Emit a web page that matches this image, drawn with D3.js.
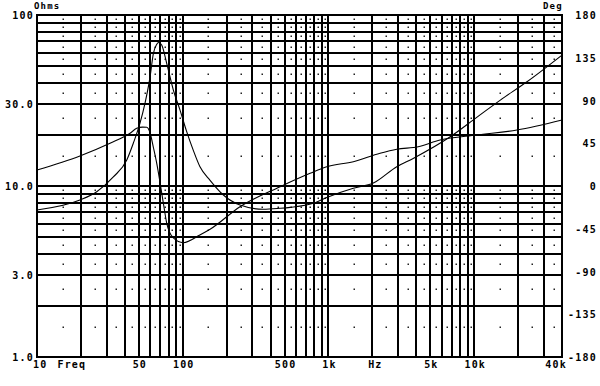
<!DOCTYPE html>
<head>
    <style>
        body { margin: 0; background: #fff; }
        svg { display: block; }
        .lbl { font-family: 'DejaVu Sans Mono', monospace; font-weight: bold; font-size: 10px; letter-spacing: 1.2px; fill: #000; }
        .grid line { stroke: #000; stroke-width: 1.3px; shape-rendering: crispEdges; }
        .curve { fill: none; stroke: #000; stroke-width: 1.1px; }
    </style>
</head>
<body>
    <div id="chart"></div>
    <script src="https://d3js.org/d3.v7.min.js"></script>
    <script>
        // impedance magnitude (left axis, Ohms)
        var impFreq = [10, 19.7, 25.7, 33.4, 41.3, 45.8, 50.9, 55.1, 59.7, 62.9, 66, 68.5, 71.7, 77.6, 86.2, 95.8, 106, 118, 131, 154, 190, 247, 357, 466, 545, 787, 973, 1480, 2030, 2940, 3810, 6840, 10400, 15100, 23000, 40000];
        var impOhms = [7.24, 8.28, 9.26, 11.3, 14.2, 17.8, 23.3, 30.5, 43.6, 59.7, 67, 69, 66.8, 52.2, 36.4, 27.8, 21, 16.2, 13.0, 10.8, 8.86, 7.74, 7.31, 7.41, 7.5, 7.92, 8.57, 9.7, 10.4, 12.97, 14.5, 19.4, 25.2, 31.8, 40.7, 58.3];

        // phase (right axis, degrees)
        var phFreq = [10, 19.7, 31.7, 43.5, 48.3, 53, 56.6, 59.7, 63, 66.3, 73.6, 77.6, 86.2, 100.9, 131, 154, 247, 466, 748, 973, 1480, 2260, 2940, 4120, 5830, 10400, 19600, 40000];
        var phDeg = [16.8, 31.6, 45, 55.5, 60.7, 62, 61.8, 55.8, 40, 23.9, -17.9, -39, -54.7, -59.7, -51.6, -45.6, -21.8, -0.7, 13.4, 20.3, 25.6, 34.4, 38.6, 41.4, 48.4, 53.7, 58.9, 69.5];

        // tick labels
        var xTickVals = [10, 20, 50, 100, 500, 1000, 2000, 5000, 10000, 40000];
        var xTickText = ["10", "Freq", "50", "100", "500", "1k", "Hz", "5k", "10k", "40k"];
        var ohmTickVals = [100, 30, 10, 3, 1];
        var ohmTickText = ["100", "30.0", "10.0", "3.0", "1.0"];
        var degTickVals = [180, 135, 90, 45, 0, -45, -90, -135, -180];

        var W = 600, H = 386;
        var pL = 37, pR = 562, pT = 15, pB = 357;

        var x = d3.scaleLog().domain([10, 40000]).range([pL, pR]);
        var yOhm = d3.scaleLog().domain([1, 100]).range([pB, pT]);
        var yDeg = d3.scaleLinear().domain([-180, 180]).range([pB, pT]);

        var svg = d3.select("#chart").append("svg")
            .attr("width", W)
            .attr("height", H);

        // grid values: 1-2-3...9 per decade
        var xGrid = [], xDots = [];
        [10, 100, 1000, 10000].forEach(function(d) {
            for (var k = 1; k <= 9; k++) {
                if (d * k > 10 && d * k < 40000) xGrid.push(d * k);
                if (d * (k + 0.5) < 40000) xDots.push(d * (k + 0.5));
            }
        });
        var yGrid = [], yDots = [];
        [1, 10].forEach(function(d) {
            for (var k = 1; k <= 9; k++) {
                if (d * k > 1) yGrid.push(d * k);
                yDots.push(d * (k + 0.5));
            }
        });

        var grid = svg.append("g").attr("class", "grid");
        grid.selectAll(".vx").data(xGrid).enter().append("line")
            .attr("x1", function(d) { return Math.round(x(d)); })
            .attr("x2", function(d) { return Math.round(x(d)); })
            .attr("y1", pT).attr("y2", pB);
        grid.selectAll(".hy").data(yGrid).enter().append("line")
            .attr("y1", function(d) { return Math.round(yOhm(d)); })
            .attr("y2", function(d) { return Math.round(yOhm(d)); })
            .attr("x1", pL).attr("x2", pR);

        // dotted points at half steps
        var dots = [];
        xDots.forEach(function(a) { yDots.forEach(function(b) { dots.push([a, b]); }); });
        svg.append("g").selectAll("rect").data(dots).enter().append("rect")
            .attr("x", function(d) { return Math.round(x(d[0])) - 0.5; })
            .attr("y", function(d) { return Math.round(yOhm(d[1])) - 0.5; })
            .attr("width", 1.5).attr("height", 1.5)
            .attr("fill", "#222");

        // frame
        svg.append("rect")
            .attr("x", pL).attr("y", pT)
            .attr("width", pR - pL).attr("height", pB - pT)
            .attr("fill", "none").attr("stroke", "#000").attr("stroke-width", 2);

        var impData = impFreq.map(function(f, i) { return [f, impOhms[i]]; });
        var phData = phFreq.map(function(f, i) { return [f, phDeg[i]]; });

        svg.append("path").attr("class", "curve")
            .attr("d", d3.line()
                .x(function(d) { return x(d[0]); })
                .y(function(d) { return yOhm(d[1]); })
                .curve(d3.curveMonotoneX)(impData));

        svg.append("path").attr("class", "curve")
            .attr("d", d3.line()
                .x(function(d) { return x(d[0]); })
                .y(function(d) { return yDeg(d[1]); })
                .curve(d3.curveMonotoneX)(phData));

        // left axis labels
        svg.append("g").selectAll("text").data(ohmTickVals).enter().append("text")
            .attr("class", "lbl")
            .attr("x", 34)
            .attr("y", function(d) { return yOhm(d) + 4; })
            .attr("text-anchor", "end")
            .text(function(d, i) { return ohmTickText[i]; });

        // right axis labels
        svg.append("g").selectAll("text").data(degTickVals).enter().append("text")
            .attr("class", "lbl")
            .attr("x", 597)
            .attr("y", function(d) { return yDeg(d) + 4; })
            .attr("text-anchor", "end")
            .text(function(d) { return d; });

        // bottom labels
        svg.append("g").selectAll("text").data(xTickVals).enter().append("text")
            .attr("class", "lbl")
            .attr("x", function(d, i) {
                if (i == 0) return x(d) - 4;
                if (xTickText[i] == "Freq") return x(d) - 9;
                if (xTickText[i] == "Hz") return x(d) + 3;
                if (i == xTickVals.length - 1) return x(d) + 5;
                return x(d) + 1;
            })
            .attr("y", 368)
            .attr("text-anchor", function(d, i) {
                if (i == 0) return "start";
                if (i == xTickVals.length - 1) return "end";
                return "middle";
            })
            .text(function(d, i) { return xTickText[i]; });

        svg.append("text").attr("class", "lbl")
            .attr("x", 34).attr("y", 9)
            .style("font-size", "9px")
            .text("Ohms");
        svg.append("text").attr("class", "lbl")
            .attr("x", 543).attr("y", 9)
            .style("font-size", "9px")
            .text("Deg");
    </script>
</body>
